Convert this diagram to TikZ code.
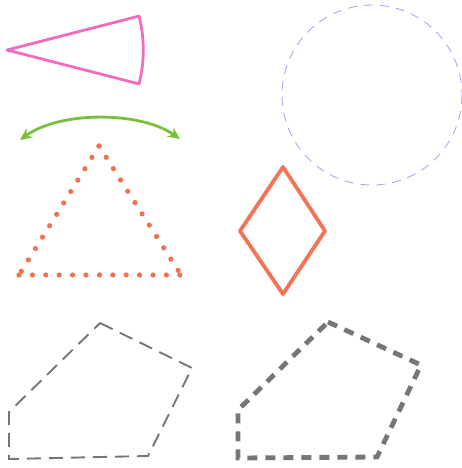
\documentclass[tikz,border=0pt]{standalone}
\usepackage{tikz}
\usetikzlibrary{arrows.meta}
\definecolor{pinkline}{HTML}{F06CC0}
\definecolor{greenline}{HTML}{7BBE3C}
\definecolor{dotred}{HTML}{F2704F}
\definecolor{diamondred}{HTML}{F47355}
\definecolor{circleblue}{HTML}{A6ACEA}
\definecolor{greyline}{HTML}{767676}
\tikzset{x=1pt, y=-1pt,
  sector/.style={pinkline, line width=2.8pt, line join=round},
  swing/.style={greenline, line width=2.8pt, {Stealth[length=12pt,width=11pt,inset=4pt]}-{Stealth[length=12pt,width=11pt,inset=4pt]}},
  dotline/.style={dotred, line width=5.2pt, line cap=round, dash pattern=on 0pt off 13.4pt},
  rhomb/.style={diamondred, line width=3.8pt, line join=round},
  ring/.style={circleblue, line width=0.9pt, dash pattern=on 9pt off 7pt},
  thinpoly/.style={greyline, line width=1.9pt, dash pattern=on 14pt off 8pt},
  thickpoly/.style={greyline, line width=4.8pt, dash pattern=on 10pt off 8pt}}
\begin{document}
\begin{tikzpicture}
\useasboundingbox (0,0) rectangle (462,468);
% sector
\coordinate (apex) at (7,50);
\draw[sector] (apex) -- ++(14.4:136.3) arc[start angle=14.4, end angle=-14.4, radius=136.3] -- cycle;
% arrow arc
\coordinate (swingL) at (20,140);
\coordinate (swingR) at (180,139);
\draw[swing] (swingL) .. controls (60,111) and (140,111) .. (swingR);
% dotted triangle
\coordinate (triT) at (99,146);
\coordinate (triL) at (19,275);
\coordinate (triR) at (181,275);
\draw[dotline] (triT) -- (triR);
\draw[dotline] (triT) -- (triL);
\draw[dotline] (triL) -- (triR);
% circle
\coordinate (ringC) at (372,95);
\draw[ring] (ringC) circle[radius=90];
% diamond
\coordinate (rhT) at (283,167);
\coordinate (rhR) at (325,231);
\coordinate (rhB) at (283,294);
\coordinate (rhL) at (240,231);
\draw[rhomb] (rhT) -- (rhR) -- (rhB) -- (rhL) -- cycle;
% pentagons
\draw[thinpoly] (100,323) -- (192,368) -- (148,456) -- (9,459) -- (9,412) -- cycle;
\draw[thickpoly] (328,322) -- (421,365) -- (377,457) -- (238,458) -- (238,410) -- cycle;
\end{tikzpicture}
\end{document}
